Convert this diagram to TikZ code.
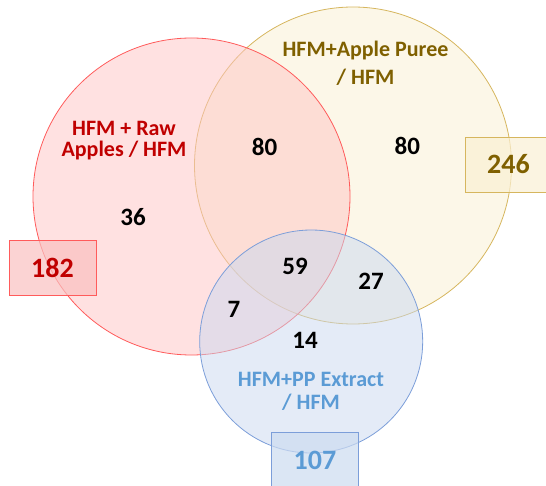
\documentclass[tikz,border=0pt]{standalone}
\usepackage{fontspec}
\setmainfont{Carlito}
\definecolor{rawline}{HTML}{FF5B5B}
\definecolor{rawfill}{HTML}{FFC4C4}
\definecolor{rawbox}{HTML}{F9C0C0}
\definecolor{rawtext}{HTML}{C00000}
\definecolor{pureeline}{HTML}{D6B65E}
\definecolor{pureefill}{HTML}{FCF7E8}
\definecolor{pureebox}{HTML}{FAF0D4}
\definecolor{pureetext}{HTML}{7F6000}
\definecolor{ppline}{HTML}{7C9ED9}
\definecolor{ppfill}{HTML}{C9D8F0}
\definecolor{ppbox}{HTML}{CCDBF0}
\definecolor{pptext}{HTML}{5B9BD5}
\begin{document}
\begin{tikzpicture}[x=1pt, y=-1pt,
  setname/.style={align=center, anchor=base, font=\fontsize{22}{#1}\selectfont\bfseries},
  count/.style={font=\fontsize{25}{25}\selectfont\bfseries},
  total/.style={draw, thick, minimum width=87, minimum height=55, fill opacity=0.7,
    text opacity=1, font=\fontsize{28}{28}\selectfont\bfseries}]
  \useasboundingbox (0,0) rectangle (546,486);
  \clip (0,0) rectangle (546,486);
  \draw[pureeline, thick, fill=pureefill] (353,165.5) circle (158.5);
  \draw[rawline, thick, fill=rawfill, fill opacity=0.5] (191.5,196.5) circle (158.5);
  \draw[ppline, thick, fill=ppfill, fill opacity=0.5] (311.2,341.5) circle (111.5);
  \node[setname=20.7, rawtext] (rawname) at (124,156.7) {HFM + Raw\\Apples / HFM};
  \node[setname=27.6, pureetext] (pureename) at (365.5,84.3) {HFM+Apple Puree\\/ HFM};
  \node[setname=23.3, pptext] (ppname) at (311,409.3) {HFM+PP Extract\\/ HFM};
  \node[count] (rawonly) at (133,216.7) {36};
  \node[count] (rawpuree) at (264.6,146.7) {80};
  \node[count] (pureeonly) at (407.4,145.5) {80};
  \node[count] (allthree) at (295,266.7) {59};
  \node[count] (pureepp) at (371,281) {27};
  \node[count] (rawpp) at (234,309) {7};
  \node[count] (pponly) at (305,340) {14};
  \node[total, rawline, fill=rawbox, text=rawtext] (rawtotal) at (52.4,267.7) {182};
  \node[total, pureeline, fill=pureebox, text=pureetext] (pureetotal) at (508.5,164.5) {246};
  \node[total, ppline, fill=ppbox, text=pptext] (pptotal) at (315,460) {107};
\end{tikzpicture}
\end{document}
